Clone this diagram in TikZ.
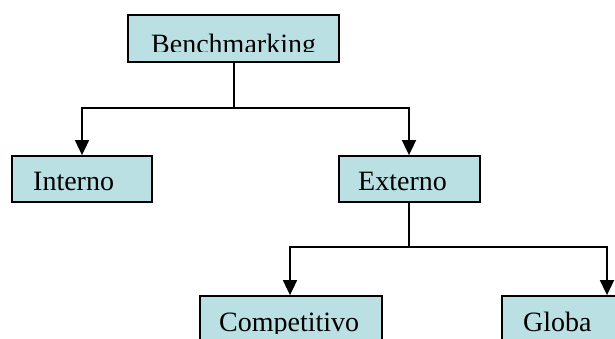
\documentclass[tikz,border=0pt]{standalone}
\usepackage{fontspec}
\setmainfont{Liberation Serif}
\usetikzlibrary{arrows.meta}
\definecolor{boxfill}{HTML}{BBE0E3}
\tikzset{
  x=1pt, y=-1pt,
  box/.style={draw=black, fill=boxfill, line width=1.8pt, rectangle, inner sep=0pt},
  label/.style={anchor=base west, inner sep=0pt, font=\fontsize{28}{30}\selectfont},
  link/.style={line width=1.8pt, -{Triangle[length=15pt,width=14pt]}},
}
\begin{document}
\begin{tikzpicture}
  \useasboundingbox (0,0) rectangle (615,338);
  \clip (0,0) rectangle (615,338);

  % boxes
  \node[box, minimum width=211pt, minimum height=47pt] (bench) at (233.5,38.5) {};
  \node[box, minimum width=140pt, minimum height=46pt] (int) at (82,179) {};
  \node[box, minimum width=141pt, minimum height=46pt] (ext) at (409.5,179) {};
  \node[box, minimum width=182pt, minimum height=46pt] (comp) at (291,319) {};
  \node[box, minimum width=210pt, minimum height=46pt] (glob) at (607,319) {};

  % labels (text frames cut off their lower part)
  \begin{scope}
    \clip (0,0) rectangle (615,51);
    \node[label] (tbench) at (151,53.5) {Benchmarking};
  \end{scope}
  \node[label] (tint) at (33,190) {Interno};
  \node[label] (text) at (358,190) {Externo};
  \begin{scope}
    \clip (0,0) rectangle (615,333);
    \node[label] (tcomp) at (219,331.5) {Competitivo};
    \node[label] (tglob) at (523,331.5) {Globa};
  \end{scope}

  % junctions
  \coordinate (j1) at (234,108);
  \coordinate (j2) at (409,247);

  % connectors
  \draw[line width=1.8pt] (bench.south -| j1) -- (j1);
  \draw[link] (j1) -| (int.north);
  \draw[link] (j1) -| (ext.north -| j2);
  \draw[line width=1.8pt] (ext.south -| j2) -- (j2);
  \draw[link] (j2) -| ([xshift=-1pt]comp.north);
  \draw[link] (j2) -| (glob.north);
\end{tikzpicture}
\end{document}
